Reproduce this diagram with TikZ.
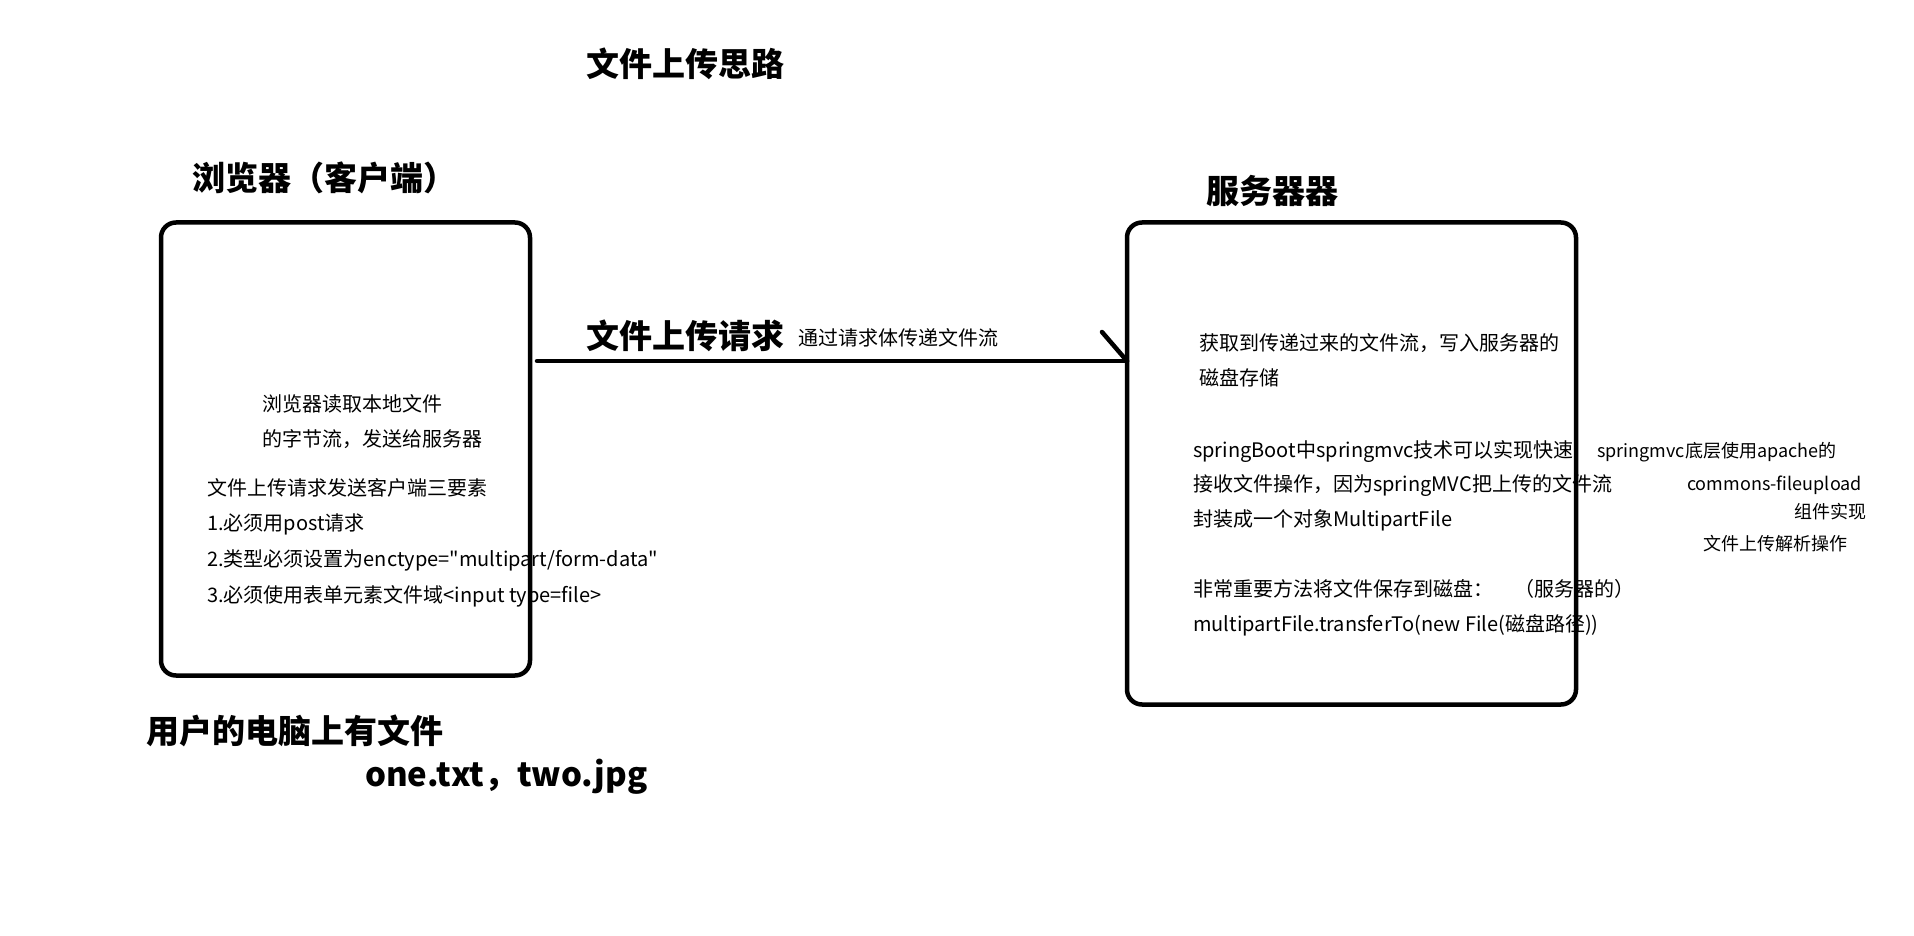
\documentclass[tikz,border=0pt]{standalone}
\usepackage{fontspec}
\setmainfont{Noto Sans CJK SC}
\newfontfamily\cjk{Noto Sans CJK SC}
\begin{document}
\begin{tikzpicture}[x=1pt,y=-1pt,
  box/.style={draw, line width=4.5pt, rounded corners=15pt, inner sep=0pt, outer sep=0pt},
  head/.style={font=\cjk\fontsize{33}{38}\selectfont\bfseries, inner sep=0pt, anchor=base west},
  txt/.style={font=\cjk\fontsize{20}{24}\selectfont, inner sep=0pt, anchor=base west},
  side/.style={font=\cjk\fontsize{18}{22}\selectfont, inner sep=0pt, anchor=base west},
  conn/.style={line width=4.5pt, line cap=round}]
\useasboundingbox (0,0) rectangle (1914,936);

% titles
\node[head] (title) at (586,77) {文件上传思路};
\node[head] (bhead) at (192,191) {浏览器（客户端）};
\node[head] (shead) at (1206,204) {服务器器};

% boxes
\node[box, minimum width=369pt, minimum height=453pt] (browser) at (345.5,449) {};
\node[box, minimum width=449pt, minimum height=482pt] (server) at (1351.5,463.5) {};

% connector
\coordinate (as) at (537,361);
\coordinate (ae) at (server.west |- as);
\coordinate (barb) at (1102,332);
\draw[conn] (as) -- (ae);
\draw[conn] (barb) -- (ae);
\node[head] (reqlabel) at (586,348) {文件上传请求};
\node[txt] (reqsub) at (798,345) {通过请求体传递文件流};

% browser text
\node[txt] (b1) at (262,411) {浏览器读取本地文件};
\node[txt] (b2) at (262,446) {的字节流，发送给服务器};
\node[txt] (b3) at (207,495) {文件上传请求发送客户端三要素};
\node[txt] (b4) at (207,530) {1.必须用post请求};
\node[txt] (b5) at (207,566) {2.类型必须设置为enctype="multipart/form-data"};
\node[txt] (b6) at (207,602) {3.必须使用表单元素文件域<input type=file>};

% server text
\node[txt] (s1) at (1199,350) {获取到传递过来的文件流，写入服务器的};
\node[txt] (s2) at (1199,385) {磁盘存储};
\node[txt] (s3) at (1193,457) {springBoot中springmvc技术可以实现快速};
\node[txt] (s4) at (1193,491) {接收文件操作，因为springMVC把上传的文件流};
\node[txt] (s5) at (1193,526) {封装成一个对象MultipartFile};
\node[txt] (s6) at (1193,596) {非常重要方法将文件保存到磁盘：};
\node[txt] (s6b) at (1514,596) {（服务器的）};
\node[txt] (s7) at (1193,631) {multipartFile.transferTo(new File(磁盘路径))};

% side notes
\node[side] (n1) at (1597,457) {springmvc底层使用apache的};
\node[side] (n2) at (1687,490) {commons-fileupload};
\node[side] (n3) at (1794,518) {组件实现};
\node[side] (n4) at (1703,550) {文件上传解析操作};

% bottom
\node[head] (user) at (146,743) {用户的电脑上有文件};
\node[head] (files) at (365,786) {one.txt，two.jpg};
\end{tikzpicture}
\end{document}
